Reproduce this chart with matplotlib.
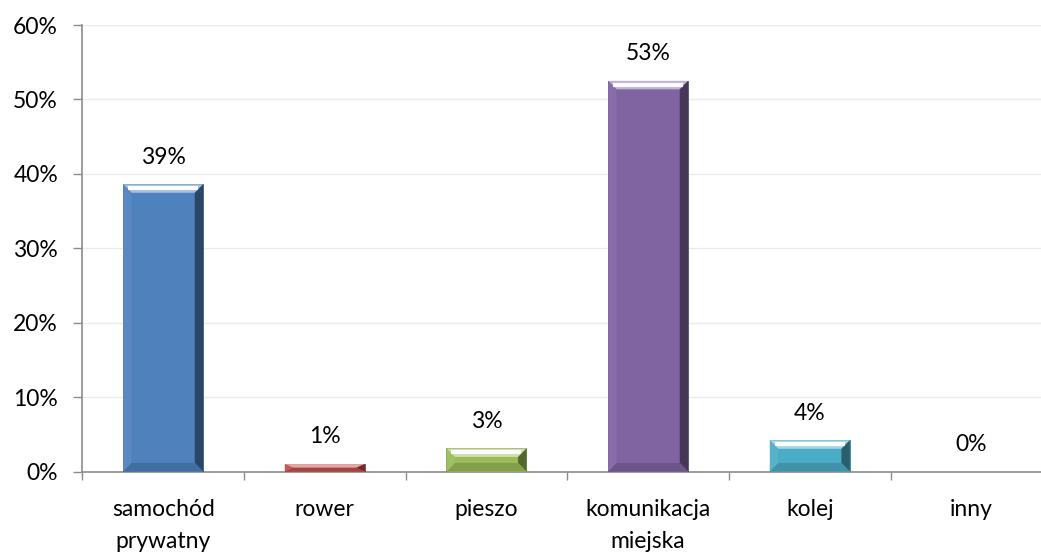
#!/usr/bin/env python3
"""Bar chart: sposób dojazdu (udział procentowy)."""

import matplotlib
matplotlib.use("Agg")
import matplotlib.pyplot as plt
import matplotlib.patches as patches
from matplotlib.colors import to_rgb
from matplotlib.ticker import FixedLocator, PercentFormatter

plt.rcParams["font.family"] = ["Lato", "DejaVu Sans"]

categories = ["samochód\nprywatny", "rower", "pieszo", "komunikacja\nmiejska", "kolej", "inny"]
values = [38.6, 1.0, 3.1, 52.5, 4.2, 0.0]
labels = ["39%", "1%", "3%", "53%", "4%", "0%"]
colors = ["#4F81BD", "#C0504D", "#9BBB59", "#8064A2", "#4BACC6", "#F79646"]

FS = 16.5


def mix(c, other, t):
    c = to_rgb(c)
    o = to_rgb(other)
    return tuple(a * (1 - t) + b * t for a, b in zip(c, o))


def bevel_bar(ax, x, h, w, color, bx=0.052, by=1.15):
    """Draw an Excel-style bevelled bar as a face plus four bevel polygons."""
    if h <= 0:
        return
    x0, x1 = x - w / 2, x + w / 2
    dy = min(by, h / 2)
    dx = bx
    ax.add_patch(patches.Rectangle((x0, 0), w, h, facecolor=color,
                                   edgecolor=mix(color, "black", 0.25), lw=0.6, zorder=3))
    ix0, ix1 = x0 + dx, x1 - dx
    iy0, iy1 = dy, h - dy
    faces = [
        ([(x0, h), (x1, h), (ix1, iy1), (ix0, iy1)], mix(color, "white", 0.5)),    # top
        ([(x1, 0), (x1, h), (ix1, iy1), (ix1, iy0)], mix(color, "black", 0.45)),   # right
        ([(x0, 0), (x1, 0), (ix1, iy0), (ix0, iy0)], mix(color, "black", 0.15)),   # bottom
        ([(x0, 0), (x0, h), (ix0, iy1), (ix0, iy0)], mix(color, "white", 0.06)),   # left
    ]
    for pts, fc in faces:
        ax.add_patch(patches.Polygon(pts, closed=True, facecolor=fc,
                                     edgecolor="none", zorder=4))
    # white highlight stripe in the top bevel
    if h > 2:
        ym = h - dy * 0.45
        ax.plot([x0 + dx * 0.6, x1 - dx * 0.6], [ym, ym], color="white",
                lw=3.0, alpha=0.95, solid_capstyle="butt", zorder=5)


def main():
    fig = plt.figure(figsize=(10.41, 5.52), dpi=100)
    ax = fig.add_axes([82.3 / 1041, (552 - 471.5) / 552, 970 / 1041, 446.5 / 552])

    n = len(categories)
    xs = list(range(n))
    ax.set_xlim(-0.5, n - 0.5)
    ax.set_ylim(0, 60)

    for x, v, c, lab in zip(xs, values, colors, labels):
        bevel_bar(ax, x, v, 0.495, c)
        ax.annotate(lab, xy=(x, v), xytext=(0, 19.5), textcoords="offset points",
                    ha="center", va="center", fontsize=FS, color="#000000")

    ax.set_yticks(range(0, 61, 10))
    ax.yaxis.set_major_formatter(PercentFormatter(decimals=0))
    ax.grid(axis="y", color="#EBEBEB", lw=1, zorder=0)
    ax.set_axisbelow(True)

    # x ticks at category boundaries, labels at centres
    ax.xaxis.set_major_locator(FixedLocator([i - 0.5 for i in range(n + 1)]))
    ax.xaxis.set_major_formatter(plt.NullFormatter())
    ax.xaxis.set_minor_locator(FixedLocator(xs))
    ax.set_xticklabels(categories, minor=True, fontsize=FS, linespacing=1.7)
    ax.tick_params(axis="x", which="major", length=6, width=1, color="#8C8C8C")
    ax.tick_params(axis="x", which="minor", length=0, pad=19.5)
    ax.tick_params(axis="y", length=6.5, width=1, color="#8C8C8C", labelsize=FS, pad=11)

    for side in ("top", "right"):
        ax.spines[side].set_visible(False)
    for side in ("left", "bottom"):
        ax.spines[side].set_color("#8C8C8C")
        ax.spines[side].set_linewidth(1.2)

    fig.savefig("out.png", dpi=100, facecolor="white")
    plt.close(fig)


if __name__ == "__main__":
    main()
